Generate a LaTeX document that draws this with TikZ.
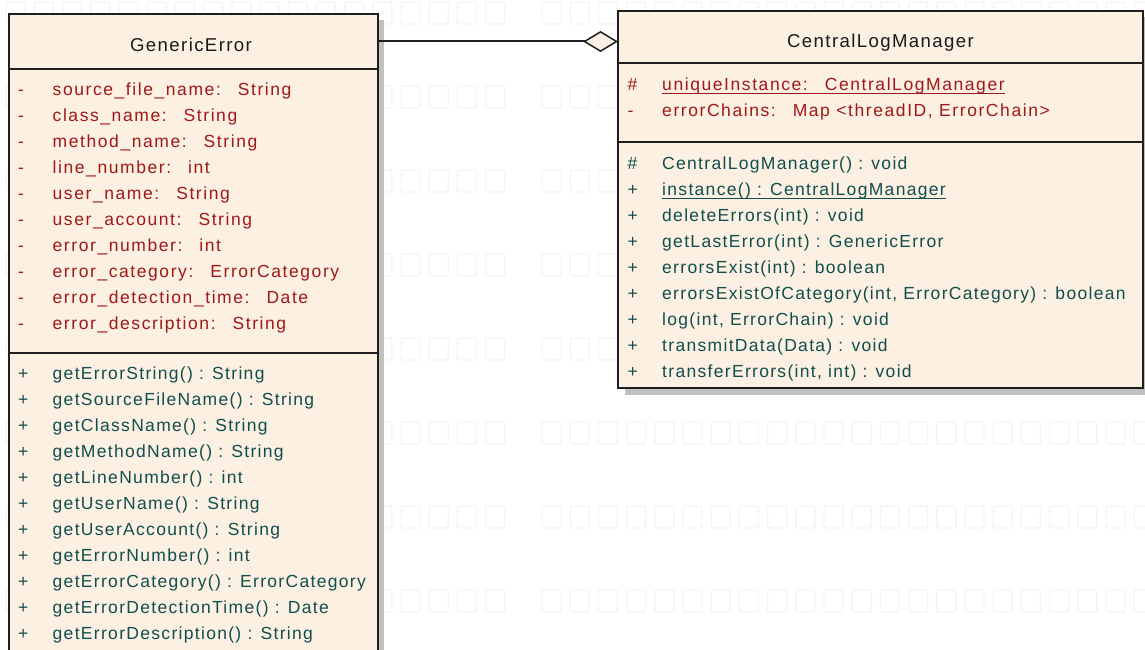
\documentclass[tikz,border=0pt]{standalone}
\usepackage{fontspec}
\setmainfont{Liberation Sans}[LetterSpace=7.5]
\newfontfamily\attrfont{Liberation Sans}[LetterSpace=9]
\usetikzlibrary{arrows.meta,backgrounds}

\definecolor{classfill}{HTML}{FBF0E1}
\definecolor{attrcol}{HTML}{A01818}
\definecolor{opcol}{HTML}{114E4E}
\definecolor{namecol}{HTML}{1A1A1A}
\definecolor{edgecol}{HTML}{1E1E1E}
\definecolor{shadowcol}{HTML}{C0C0C0}
\definecolor{markcol}{HTML}{F4F4F4}

% one member line: visibility marker, then the member text
\newcommand\memberrow[2]{\makebox[34.5pt][l]{#1}#2}
% underline for static members
\newsavebox\ulinebox
\newcommand\staticul[1]{\sbox\ulinebox{#1}\rlap{\rule[-3.4pt]{\wd\ulinebox}{1.3pt}}\usebox\ulinebox}
% gap between an attribute name and its type
\newcommand\tsep{\hspace{17pt}}

\tikzset{
  compartment/.style={draw=edgecol, fill=classfill, line width=2pt,
    rectangle, inner sep=0pt, outer sep=0pt, anchor=north west},
  headtext/.style={inner sep=0pt, anchor=base, text=namecol,
    font=\fontsize{18.6}{26}\selectfont},
  memberlist/.style={inner sep=0pt, anchor=north west, align=left,
    font=\fontsize{17.5}{26}\selectfont},
  attrlist/.style={memberlist, text=attrcol,
    font=\attrfont\fontsize{17.5}{26}\selectfont},
  oplist/.style={memberlist, text=opcol},
  markbox/.style={draw=markcol, line width=1.4pt, rounded corners=2pt},
  aggregation/.style={draw=edgecol, line width=2pt,
    -{Diamond[length=35pt, width=21pt, fill=classfill, line width=1.5pt]}},
}

\begin{document}
\begin{tikzpicture}[x=1pt, y=-1pt]
\useasboundingbox (0,0) rectangle (1145,650);

% ---------- class GenericError ----------
\node[compartment, minimum width=369pt, minimum height=55pt] (ge-head) at (8.5,14) {};
\node[compartment, minimum width=369pt, minimum height=283.7pt] (ge-attr) at (8.5,69) {};
\node[compartment, minimum width=369pt, minimum height=330pt] (ge-ops) at (8.5,352.7) {};
\node[headtext] (ge-name) at (191,51.7) {GenericError};

\node[attrlist] (ge-attr-text) at (18,81.5) {\rule{0pt}{14pt}%
\memberrow{-}{source\_file\_name:\tsep String}\\
\memberrow{-}{class\_name:\tsep String}\\
\memberrow{-}{method\_name:\tsep String}\\
\memberrow{-}{line\_number:\tsep int}\\
\memberrow{-}{user\_name:\tsep String}\\
\memberrow{-}{user\_account:\tsep String}\\
\memberrow{-}{error\_number:\tsep int}\\
\memberrow{-}{error\_category:\tsep ErrorCategory}\\
\memberrow{-}{error\_detection\_time:\tsep Date}\\
\memberrow{-}{error\_description:\tsep String}};

\node[oplist] (ge-ops-text) at (18,365.3) {\rule{0pt}{14pt}%
\memberrow{+}{getErrorString() : String}\\
\memberrow{+}{getSourceFileName() : String}\\
\memberrow{+}{getClassName() : String}\\
\memberrow{+}{getMethodName() : String}\\
\memberrow{+}{getLineNumber() : int}\\
\memberrow{+}{getUserName() : String}\\
\memberrow{+}{getUserAccount() : String}\\
\memberrow{+}{getErrorNumber() : int}\\
\memberrow{+}{getErrorCategory() : ErrorCategory}\\
\memberrow{+}{getErrorDetectionTime() : Date}\\
\memberrow{+}{getErrorDescription() : String}};

% ---------- class CentralLogManager ----------
\node[compartment, minimum width=525pt, minimum height=52pt] (clm-head) at (618,11) {};
\node[compartment, minimum width=525pt, minimum height=79pt] (clm-attr) at (618,63) {};
\node[compartment, minimum width=525pt, minimum height=246pt] (clm-ops) at (618,142) {};
\node[headtext] (clm-name) at (880.5,47.3) {CentralLogManager};

\node[attrlist] (clm-attr-text) at (627.5,76.7) {\rule{0pt}{14pt}%
\memberrow{\#}{\staticul{uniqueInstance:\tsep CentralLogManager}}\\
\memberrow{-}{errorChains:\tsep Map <threadID, ErrorChain>}};

\node[oplist] (clm-ops-text) at (627.5,155.3) {\rule{0pt}{14pt}%
\memberrow{\#}{CentralLogManager() : void}\\
\memberrow{+}{\staticul{instance() : CentralLogManager}}\\
\memberrow{+}{deleteErrors(int) : void}\\
\memberrow{+}{getLastError(int) : GenericError}\\
\memberrow{+}{errorsExist(int) : boolean}\\
\memberrow{+}{errorsExistOfCategory(int, ErrorCategory) : boolean}\\
\memberrow{+}{log(int, ErrorChain) : void}\\
\memberrow{+}{transmitData(Data) : void}\\
\memberrow{+}{transferErrors(int, int) : void}};

% ---------- aggregation ----------
\draw[aggregation] (ge-head.east) -- (ge-head.east -| clm-head.west);

% ---------- drop shadows and faint backdrop ----------
\begin{scope}[on background layer]
  \foreach \row in {0,...,7} {
    \foreach \k in {-14,...,26} {
      \ifnum\k=4 \else
        \draw[markbox] ({401+28.2*\k},{2+84*\row}) rectangle ++(19,22);
      \fi
    }
  }
  \fill[shadowcol] ([shift={(6,6)}]ge-head.north west) rectangle ([shift={(6,6)}]ge-ops.south east);
  \fill[shadowcol] ([shift={(6.5,6.5)}]clm-head.north west) rectangle ([shift={(6.5,6.5)}]clm-ops.south east);
\end{scope}
\end{tikzpicture}
\end{document}
